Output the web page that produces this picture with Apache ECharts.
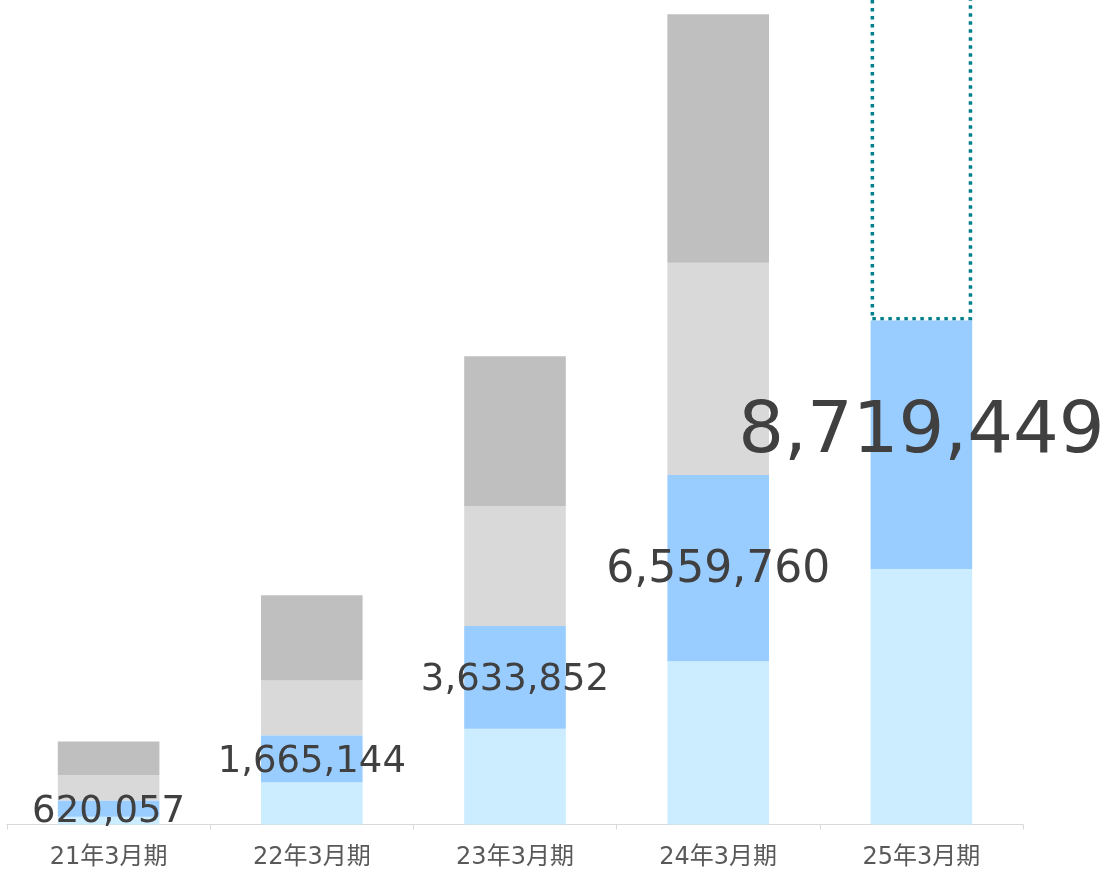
<!DOCTYPE html>
<html>
<head>
<meta charset="utf-8">
<script src="https://cdn.jsdelivr.net/npm/echarts@6/dist/echarts.min.js"></script>
<style>
  html, body { margin: 0; padding: 0; background: #fff; }
  #main { width: 1109px; height: 871px; }
</style>
</head>
<body>
<div id="main"></div>
<script>
// 期ごとの区分
var categories = ['21年3月期', '22年3月期', '23年3月期', '24年3月期', '25年3月期'];

// 積み上げの各段（下から）
var lightBlue = [14, 77, 174, 297, 465];
var blue      = [29, 85, 187, 339, 452];
var lightGray = [47, 100, 218, 386, '-'];
var gray      = [61, 155, 273, 452, '-'];
// 25年3月期の目標枠（点線、上端は画面外）
var target    = ['-', '-', '-', '-', 700];

// 青い段に表示する数値
var totals = [620057, 1665144, 3633852, 6559760, 8719449];

// ラベルの文字サイズ・位置調整
var labelSize = [37, 37, 37, 44, 72];
var labelShift = [4, 4, 3, 2, -11];

var myChart = echarts.init(document.getElementById('main'));

var option = {
    animation: false,
    grid: { left: 7, right: 86, top: 0, bottom: 46.5 },
    xAxis: {
        type: 'category',
        data: categories,
        axisLine: { lineStyle: { color: '#d9d9d9', width: 1 } },
        axisTick: { show: true, length: 5, lineStyle: { color: '#d9d9d9' } },
        axisLabel: {
            color: '#595959',
            fontSize: 24,
            fontFamily: '"DejaVu Sans", "Noto Sans CJK JP"',
            margin: 21
        }
    },
    yAxis: {
        type: 'value',
        min: 0,
        max: 1500,
        show: false,
        splitLine: { show: false }
    },
    series: [
        {
            name: 'lightBlue', type: 'bar', stack: 'total', barWidth: '50%',
            itemStyle: { color: '#CCECFF' },
            data: lightBlue
        },
        {
            name: 'blue', type: 'bar', stack: 'total', z: 5,
            itemStyle: { color: '#99CCFF' },
            data: blue.map(function (v, i) {
                return {
                    value: v,
                    label: { fontSize: labelSize[i], offset: [0, labelShift[i]] }
                };
            }),
            label: {
                show: true,
                position: 'inside',
                color: '#404040',
                fontFamily: 'DejaVu Sans',
                formatter: function (p) {
                    return totals[p.dataIndex].toLocaleString('en-US');
                }
            }
        },
        {
            name: 'lightGray', type: 'bar', stack: 'total',
            itemStyle: { color: '#D9D9D9' },
            data: lightGray
        },
        {
            name: 'gray', type: 'bar', stack: 'total',
            itemStyle: { color: '#BFBFBF' },
            data: gray
        },
        {
            // clipしないで上辺を画面外へはみ出させる
            name: 'target', type: 'bar', stack: 'total', clip: false,
            itemStyle: {
                color: 'rgba(0,0,0,0)',
                borderColor: '#00808F',
                borderWidth: 3.5,
                borderType: [3.5, 4.5]
            },
            data: target
        }
    ]
};

myChart.setOption(option);
</script>
</body>
</html>
